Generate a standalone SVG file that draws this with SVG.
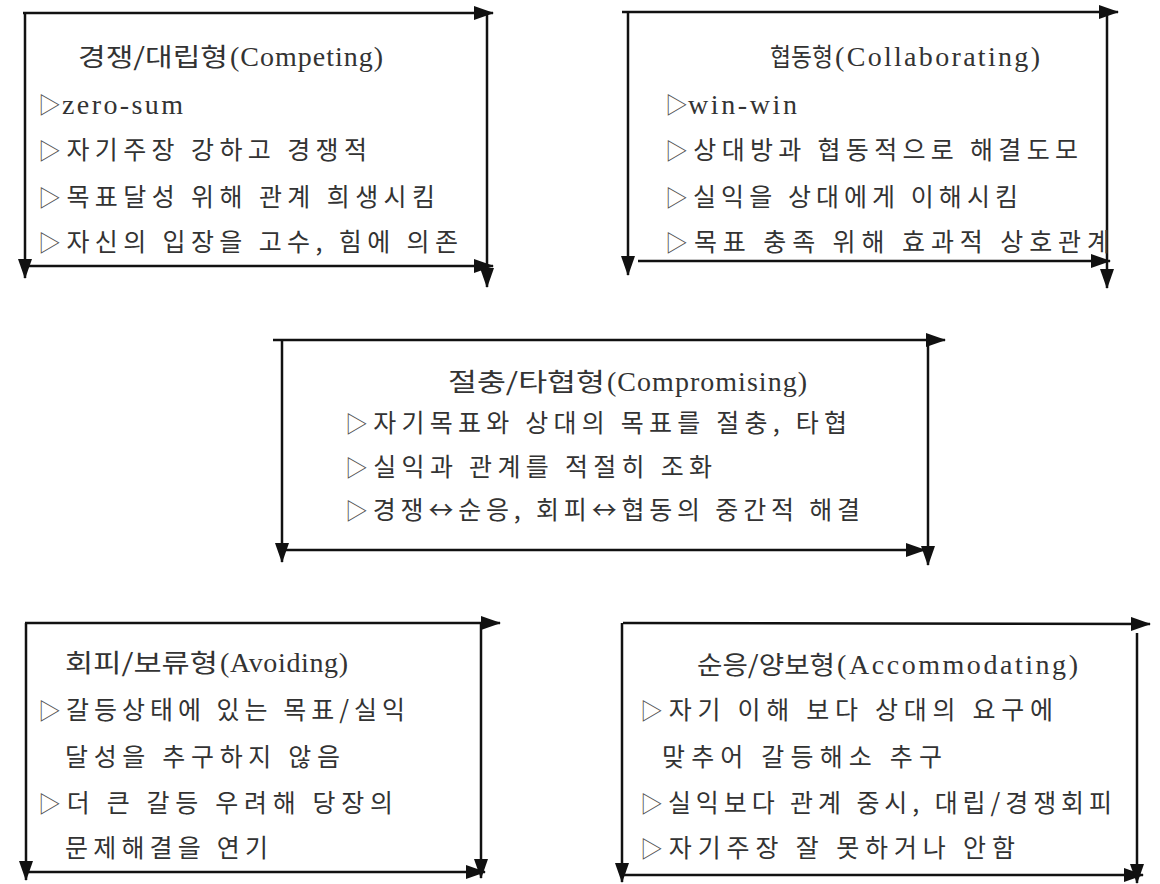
<svg xmlns="http://www.w3.org/2000/svg" width="1160" height="884" viewBox="0 0 1160 884">
<defs>
<marker id="ah" viewBox="0 0 20 14" refX="19" refY="7" markerWidth="20" markerHeight="14" markerUnits="userSpaceOnUse" orient="auto">
<path d="M0,0 L20,7 L0,14 z" fill="#111"/>
</marker>
<style>
.frame line{stroke:#111;stroke-width:2.5;marker-end:url(#ah)}
text{font-family:"Noto Sans CJK KR","Liberation Sans",sans-serif;font-size:25px;fill:#333}
text.lat{font-family:"Liberation Serif","Noto Sans CJK KR",serif;font-size:28px}
tspan.b{fill:#555;font-size:23px}
</style>
</defs>
<rect width="1160" height="884" fill="#fff"/>

<g id="competing">
<g class="frame">
<line x1="23" y1="13" x2="493" y2="13"/>
<line x1="25" y1="13" x2="25" y2="278"/>
<line x1="25" y1="266" x2="493" y2="266"/>
<line x1="487" y1="13" x2="487" y2="287"/>
</g>
<text x="78" y="66" textLength="150" lengthAdjust="spacingAndGlyphs">경쟁/대립형</text>
<text class="lat" x="230" y="66" textLength="153" lengthAdjust="spacing">(Competing)</text>
<text x="38" y="113"><tspan class="b">▷</tspan></text>
<text class="lat" x="62" y="114" textLength="121" lengthAdjust="spacing">zero-sum</text>
<text x="38" y="159" textLength="329" lengthAdjust="spacing"><tspan class="b">▷</tspan>자기주장 강하고 경쟁적</text>
<text x="38" y="206" textLength="397" lengthAdjust="spacing"><tspan class="b">▷</tspan>목표달성 위해 관계 희생시킴</text>
<text x="38" y="251" textLength="420" lengthAdjust="spacing"><tspan class="b">▷</tspan>자신의 입장을 고수, 힘에 의존</text>
</g>

<g id="collaborating">
<g class="frame">
<line x1="622" y1="12" x2="1118" y2="12"/>
<line x1="628" y1="12" x2="628" y2="275"/>
<line x1="638" y1="261" x2="1110" y2="261"/>
<line x1="1107" y1="15" x2="1107" y2="288"/>
</g>
<text x="770" y="66" textLength="63" lengthAdjust="spacingAndGlyphs">협동형</text>
<text class="lat" x="835" y="66" textLength="205" lengthAdjust="spacing">(Collaborating)</text>
<text x="665" y="113"><tspan class="b">▷</tspan></text>
<text class="lat" x="688" y="114" textLength="109" lengthAdjust="spacing">win-win</text>
<text x="665" y="159" textLength="413" lengthAdjust="spacing"><tspan class="b">▷</tspan>상대방과 협동적으로 해결도모</text>
<text x="665" y="206" textLength="353" lengthAdjust="spacing"><tspan class="b">▷</tspan>실익을 상대에게 이해시킴</text>
<text x="665" y="251" textLength="445" lengthAdjust="spacing"><tspan class="b">▷</tspan>목표 충족 위해 효과적 상호관계</text>
</g>

<g id="compromising">
<g class="frame">
<line x1="273" y1="340" x2="945" y2="340"/>
<line x1="282" y1="340" x2="282" y2="562"/>
<line x1="280" y1="550" x2="925" y2="550"/>
<line x1="928" y1="340" x2="928" y2="565"/>
</g>
<text x="448" y="391" textLength="157" lengthAdjust="spacingAndGlyphs">절충/타협형</text>
<text class="lat" x="607" y="391" textLength="200" lengthAdjust="spacing">(Compromising)</text>
<text x="345" y="432" textLength="502" lengthAdjust="spacing"><tspan class="b">▷</tspan>자기목표와 상대의 목표를 절충, 타협</text>
<text x="345" y="476" textLength="367" lengthAdjust="spacing"><tspan class="b">▷</tspan>실익과 관계를 적절히 조화</text>
<text x="345" y="519" textLength="515" lengthAdjust="spacing"><tspan class="b">▷</tspan>경쟁↔순응, 회피↔협동의 중간적 해결</text>
</g>

<g id="avoiding">
<g class="frame">
<line x1="25" y1="623" x2="500" y2="623"/>
<line x1="26" y1="623" x2="26" y2="880"/>
<line x1="26" y1="872" x2="485" y2="872"/>
<line x1="481" y1="623" x2="481" y2="878"/>
</g>
<text x="65" y="672" textLength="153" lengthAdjust="spacingAndGlyphs">회피/보류형</text>
<text class="lat" x="220" y="672" textLength="128" lengthAdjust="spacing">(Avoiding)</text>
<text x="38" y="719" textLength="367" lengthAdjust="spacing"><tspan class="b">▷</tspan>갈등상태에 있는 목표/실익</text>
<text x="65" y="766" textLength="275" lengthAdjust="spacing">달성을 추구하지 않음</text>
<text x="38" y="812" textLength="355" lengthAdjust="spacing"><tspan class="b">▷</tspan>더 큰 갈등 우려해 당장의</text>
<text x="65" y="857" textLength="203" lengthAdjust="spacing">문제해결을 연기</text>
</g>

<g id="accommodating">
<g class="frame">
<line x1="623" y1="623" x2="1150" y2="624"/>
<line x1="622" y1="623" x2="622" y2="882"/>
<line x1="622" y1="875" x2="1143" y2="875"/>
<line x1="1137" y1="633" x2="1137" y2="883"/>
</g>
<text x="697" y="674" textLength="138" lengthAdjust="spacingAndGlyphs">순응/양보형</text>
<text class="lat" x="837" y="674" textLength="241" lengthAdjust="spacing">(Accommodating)</text>
<text x="640" y="719" textLength="413" lengthAdjust="spacing"><tspan class="b">▷</tspan>자기 이해 보다 상대의 요구에</text>
<text x="662" y="766" textLength="280" lengthAdjust="spacing">맞추어 갈등해소 추구</text>
<text x="640" y="812" textLength="472" lengthAdjust="spacing"><tspan class="b">▷</tspan>실익보다 관계 중시, 대립/경쟁회피</text>
<text x="640" y="857" textLength="375" lengthAdjust="spacing"><tspan class="b">▷</tspan>자기주장 잘 못하거나 안함</text>
</g>

<g id="connectors"/>
</svg>
